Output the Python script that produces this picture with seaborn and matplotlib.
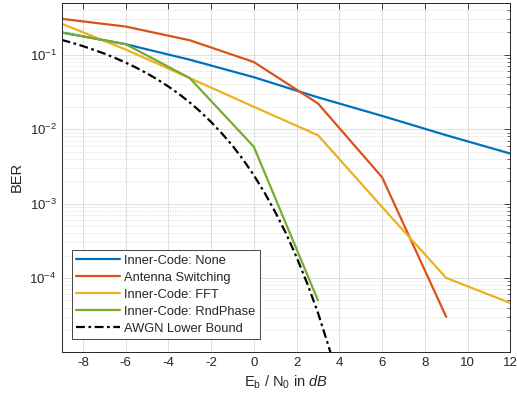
import numpy as np
import pandas as pd
import matplotlib
matplotlib.use("Agg")
import matplotlib.pyplot as plt
import matplotlib.ticker as mticker
import seaborn as sns

# === Data ===
snr_sim = [-9, -6, -3, 0, 3, 6, 9, 12]
ber_none = [0.20, 0.139, 0.086, 0.050, 0.0268, 0.0151, 0.0083, 0.0047]
ber_switch = [0.305, 0.24, 0.157, 0.080, 0.0222, 0.00226, 3.0e-5]
ber_fft = [0.263, 0.118, 0.0487, 0.020, 0.0083, 9.0e-4, 1.0e-4, 4.6e-5]
ber_rnd = [0.20, 0.139, 0.0487, 0.0058, 5.0e-5]

snr_awgn = [-9, -8.5, -8, -7.5, -7, -6.5, -6, -5.5, -5, -4.5, -4, -3.5, -3,
            -2.5, -2, -1.5, -1, -0.5, 0, 0.5, 1, 1.5, 2, 2.5, 3, 3.5, 4]
ber_awgn = [0.159, 0.145, 0.131, 0.117, 0.104, 0.091, 0.0786, 0.0671, 0.0563,
            0.0464, 0.0375, 0.0297, 0.0229, 0.0172, 0.0125, 0.0088, 0.0060,
            0.0039, 0.0024, 0.0014, 7.7e-4, 4.0e-4, 1.9e-4, 8.4e-5, 3.4e-5,
            1.2e-5, 3.9e-6]

series = [
    ("Inner-Code: None", snr_sim[:len(ber_none)], ber_none, "#0072BD", "-"),
    ("Antenna Switching", snr_sim[:len(ber_switch)], ber_switch, "#D95319", "-"),
    ("Inner-Code: FFT", snr_sim[:len(ber_fft)], ber_fft, "#EDB120", "-"),
    ("Inner-Code: RndPhase", snr_sim[:len(ber_rnd)], ber_rnd, "#77AC30", "-"),
    ("AWGN Lower Bound", snr_awgn, ber_awgn, "black", (0, (4, 1.6, 1.2, 1.6))),
]

sns.set_style("white")
plt.rcParams["font.family"] = ["Liberation Sans", "DejaVu Sans"]
plt.rcParams["mathtext.fontset"] = "custom"
plt.rcParams["mathtext.rm"] = "Liberation Sans"
plt.rcParams["mathtext.it"] = "Liberation Sans:italic"
plt.rcParams["axes.unicode_minus"] = False

fig = plt.figure(figsize=(5.17, 4.07), dpi=100)
ax = fig.add_axes([0.119, 0.136, 0.868, 0.857])

for name, xs, ys, col, ls in series:
    df = pd.DataFrame({"snr": xs, "ber": ys})
    sns.lineplot(data=df, x="snr", y="ber", ax=ax, color=col, linestyle=ls,
                 linewidth=1.6, label=name, sort=False)

ax.set_yscale("log")
ax.set_xlim(-9, 12)
ax.set_ylim(1.02e-5, 0.5)
ax.set_xticks(range(-8, 13, 2))
ax.yaxis.set_major_locator(mticker.LogLocator(base=10, numticks=10))
ax.yaxis.set_minor_locator(mticker.LogLocator(base=10, subs=np.arange(2, 10), numticks=20))
ax.yaxis.set_minor_formatter(mticker.NullFormatter())

ax.grid(True, which="major", color="#dedede", linewidth=0.7, linestyle="-")
ax.grid(True, which="minor", axis="y", color="#cfcfcf", linewidth=0.6, linestyle=(0, (1, 2)))
ax.set_axisbelow(True)

ax.tick_params(which="both", direction="in", top=True, right=True,
               colors="#262626", labelsize=9.5)
ax.tick_params(which="major", length=4, width=0.6)
ax.tick_params(which="minor", length=2, width=0.5)
for sp in ax.spines.values():
    sp.set_color("#262626")
    sp.set_linewidth(0.7)

ax.set_xlabel(r"E$_\mathrm{b}$ / N$_0$ in $\it{dB}$", fontsize=10.5, color="#262626", labelpad=4)
ax.set_ylabel("BER", fontsize=10.5, color="#262626", labelpad=4)

leg = ax.legend(loc="lower left", bbox_to_anchor=(0.023, 0.036), borderaxespad=0,
                fontsize=9.3, frameon=True, fancybox=False, handlelength=3.4,
                handletextpad=0.3, labelspacing=0.38, borderpad=0.35)
leg.get_frame().set_edgecolor("#262626")
leg.get_frame().set_linewidth(0.6)
leg.get_frame().set_alpha(1)

fig.savefig("out.png", dpi=100)
